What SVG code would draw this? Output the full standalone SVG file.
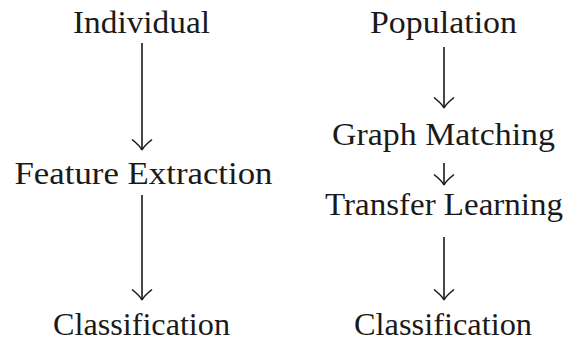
<svg xmlns="http://www.w3.org/2000/svg" width="565" height="341" viewBox="0 0 565 341">
<style>
.t{font-size:32px;fill:#1a1a1a;text-anchor:middle}
.e line,.ah{stroke:#1a1a1a;stroke-width:1.6;fill:none}
</style>
<defs>
<path id="ah" class="ah" d="M-10,-10.5 C-5,-6.5 -1.5,-3 0,0 M10,-10.5 C5,-6.5 1.5,-3 0,0"/>
</defs>
<rect width="565" height="341" fill="#fff"/>
<g font-family="'Liberation Serif', 'Times New Roman', serif">
<g id="individual"><text class="t" x="141.5" y="33" textLength="137" lengthAdjust="spacingAndGlyphs">Individual</text></g>
<g id="feature-extraction"><text class="t" x="143.5" y="184" textLength="258" lengthAdjust="spacingAndGlyphs">Feature Extraction</text></g>
<g id="classification-left"><text class="t" x="141.5" y="335" textLength="177" lengthAdjust="spacingAndGlyphs">Classification</text></g>
<g id="population"><text class="t" x="443.5" y="33" textLength="147" lengthAdjust="spacingAndGlyphs">Population</text></g>
<g id="graph-matching"><text class="t" x="443.5" y="145" textLength="223" lengthAdjust="spacingAndGlyphs">Graph Matching</text></g>
<g id="transfer-learning"><text class="t" x="444" y="215" textLength="238" lengthAdjust="spacingAndGlyphs">Transfer Learning</text></g>
<g id="classification-right"><text class="t" x="443" y="335" textLength="178" lengthAdjust="spacingAndGlyphs">Classification</text></g>
</g>
<g id="connectors" class="e">
<line x1="142" y1="43" x2="142" y2="149.5"/><use href="#ah" x="142" y="150"/>
<line x1="142" y1="195" x2="142" y2="299.5"/><use href="#ah" x="142" y="300"/>
<line x1="444" y1="47" x2="444" y2="107.5"/><use href="#ah" x="444" y="108"/>
<line x1="444" y1="163" x2="444" y2="184.5"/><use href="#ah" x="444" y="185"/>
<line x1="444" y1="237" x2="444" y2="299.5"/><use href="#ah" x="444" y="300"/>
</g>
</svg>
